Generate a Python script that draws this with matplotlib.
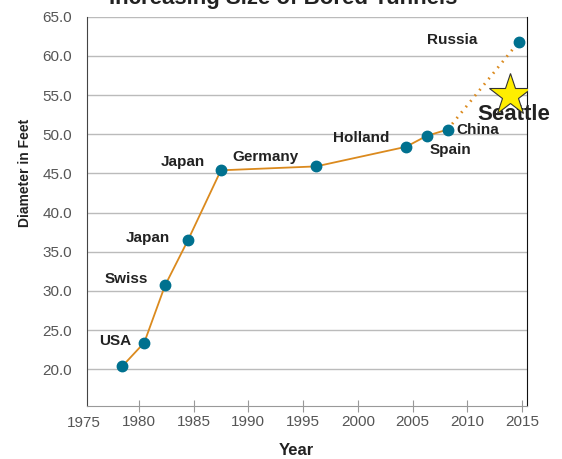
import matplotlib.pyplot as plt

plt.rcParams['font.family'] = ['Liberation Sans', 'DejaVu Sans']

# tunnel boring machines: year vs diameter (ft)
years = [1978.5, 1980.5, 1982.4, 1984.5, 1987.5, 1996.2, 2004.4, 2006.3, 2008.2]
diameters = [20.4, 23.4, 30.7, 36.5, 45.4, 45.9, 48.4, 49.8, 50.6]
labels = ['', 'USA', 'Swiss', 'Japan', 'Japan', 'Germany', 'Holland', 'Spain', 'China']
russia = (2014.7, 61.8)
seattle = (2013.9, 55.0)
xticks = [1975, 1980, 1985, 1990, 1995, 2000, 2005, 2010, 2015]
yticks = [20, 25, 30, 35, 40, 45, 50, 55, 60, 65]

line_col = '#DB8A1E'
dot_col = '#00718F'
txt_col = '#222222'

fig = plt.figure(figsize=(5.62, 4.59), dpi=100)
ax = fig.add_axes([0.1553, 0.1155, 0.7824, 0.848])

ax.plot(years, diameters, color=line_col, lw=1.3, zorder=2)
ax.plot([years[-1], russia[0]], [diameters[-1], russia[1]], color=line_col,
        lw=2, linestyle=(0, (0.6, 2.0)), zorder=2)
ax.plot(years + [russia[0]], diameters + [russia[1]], 'o', color=dot_col,
        markersize=7.5, zorder=3)
ax.plot(*seattle, marker='*', markersize=32, color='#FFEE00',
        markeredgecolor='#333333', markeredgewidth=0.8, zorder=4)

# label offsets in points: (dx, dy, ha)
offsets = [None,
           (-9.5, 1.5, 'right'),
           (-12, 4.5, 'right'),
           (-13, 1.5, 'right'),
           (-11.5, 6, 'right'),
           (-60, 7, 'left'),
           (-12, 6.5, 'right'),
           (2, -10, 'left'),
           (6.5, 0, 'left')]
for x, y, lab, off in zip(years, diameters, labels, offsets):
    if not lab:
        continue
    dx, dy, ha = off
    ax.annotate(lab, (x, y), xytext=(dx, dy), textcoords='offset points',
                ha=ha, va='center', fontsize=11, fontweight='bold', color=txt_col)
ax.annotate('Russia', russia, xytext=(-30, 1.5), textcoords='offset points',
            ha='right', va='center', fontsize=11, fontweight='bold', color=txt_col)
ax.annotate('Seattle', seattle, xytext=(3, -14), textcoords='offset points',
            ha='center', va='center', fontsize=16, fontweight='bold', color=txt_col)

ax.set_xlim(1975.3, 2015.45)
ax.set_ylim(15.32, 65)
ax.set_xticks(xticks[1:])
ax.set_yticks(yticks)
ax.set_yticklabels([f'{v:.1f}' for v in yticks])
# 1975 sits just outside the plotted range but is still labelled
ax.text(xticks[0], -0.025, str(xticks[0]), transform=ax.get_xaxis_transform(),
        ha='center', va='top', fontsize=11, color='#555555')

ax.yaxis.grid(True, color='#BBBBBB', lw=1)
ax.set_axisbelow(True)
ax.tick_params(axis='y', length=0, labelsize=11, labelcolor='#555555', pad=11)
ax.tick_params(axis='x', direction='inout', length=9, color='#999999',
               labelsize=11, labelcolor='#555555', pad=2)

ax.spines['top'].set_visible(False)
ax.spines['left'].set_color('#444444')
ax.spines['bottom'].set_color('#999999')
ax.spines['right'].set_color('#111111')

ax.set_xlabel('Year', fontsize=12, fontweight='bold', color=txt_col)
ax.xaxis.set_label_coords(0.475, -0.095)
ax.set_ylabel('Diameter in Feet', fontsize=10, fontweight='bold', color=txt_col)
ax.yaxis.set_label_coords(-0.125, 0.6)

fig.text(283 / 562, 1 - 4 / 459, 'Increasing Size of Bored Tunnels', ha='center',
         va='baseline', fontsize=16, fontweight='bold', color=txt_col)

fig.savefig('out.png', dpi=100)
